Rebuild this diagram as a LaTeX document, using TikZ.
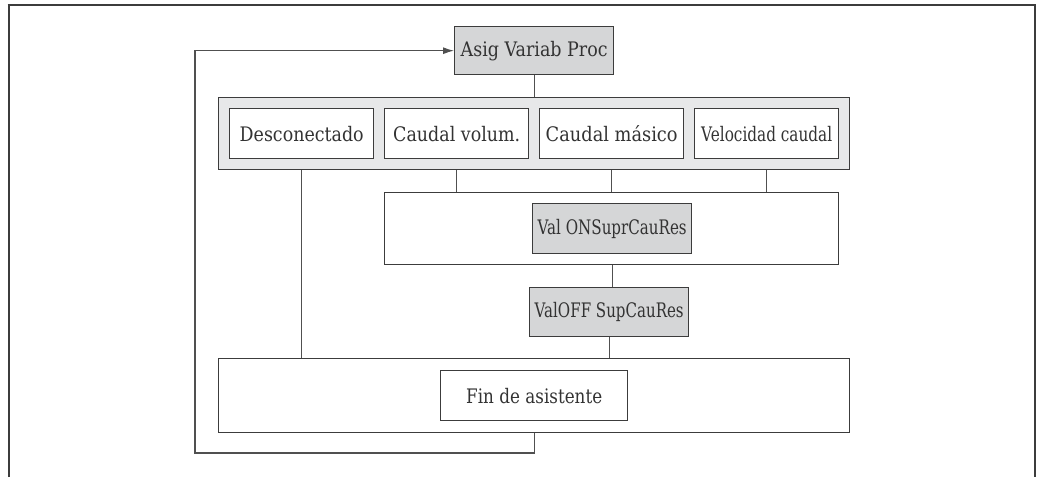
\documentclass[tikz,border=0pt]{standalone}
\usepackage{fontspec}
\setmainfont{DejaVu Serif}
\usepackage{graphicx}
\usetikzlibrary{arrows.meta}
\definecolor{edge}{HTML}{3C3C3C}
\definecolor{conncol}{HTML}{505050}
\definecolor{fillA}{HTML}{D5D6D7}
\definecolor{fillB}{HTML}{E7E8E9}
\definecolor{txt}{HTML}{333333}
\newcommand{\fw}[2]{\resizebox{#1pt}{\height}{#2}}
\begin{document}
\begin{tikzpicture}[x=1pt,y=-1pt,
  box/.style={draw=edge, line width=1.4pt, inner sep=0pt, anchor=north west,
    text=txt, font=\fontsize{20}{23}\selectfont},
  gbox/.style={box, fill=fillA},
  wbox/.style={box, fill=white},
  cbox/.style={box, fill=fillB},
  conn/.style={draw=conncol, line width=1.1pt},
  frameline/.style={draw=edge, line width=2pt}
]
\useasboundingbox (0,0) rectangle (1037,477);
% frame
\draw[frameline] (8.5,477) -- (8.5,5);
\draw[frameline] (1035,5) -- (1035,477);
\draw[draw=edge, line width=1.3pt] (7.5,5) -- (1036,5);

% nodes
\node[gbox, minimum width=159pt, minimum height=48pt] (asig) at (454,26) {\fw{147}{Asig Variab Proc}};
\node[cbox, minimum width=631pt, minimum height=72pt] (sel) at (218,97) {};
\node[wbox, minimum width=144pt, minimum height=50pt] (desc) at (229,108) {\fw{124}{Desconectado}};
\node[wbox, minimum width=144pt, minimum height=50pt] (cvol) at (384,108) {\fw{127}{Caudal volum.}};
\node[wbox, minimum width=144pt, minimum height=50pt] (cmas) at (539,108) {\fw{132}{Caudal másico}};
\node[wbox, minimum width=144pt, minimum height=50pt] (vel) at (694,108) {\fw{131}{Velocidad caudal}};
\node[wbox, minimum width=454pt, minimum height=72pt] (oncont) at (384,192) {};
\node[gbox, minimum width=159pt, minimum height=50pt] (valon) at (532,203) {\fw{149}{Val ONSuprCauRes}};
\node[gbox, minimum width=159pt, minimum height=49pt] (valoff) at (529,287) {\fw{149}{ValOFF SupCauRes}};
\node[wbox, minimum width=631pt, minimum height=74pt] (fincont) at (218,358) {};
\node[wbox, minimum width=187pt, minimum height=50pt] (fin) at (440,370) {\fw{136}{Fin de asistente}};
\coordinate (loopc) at (195,453);

% connectors
\draw[conn] (asig.south) -- (sel.north);
\draw[conn] (desc.south |- sel.south) -- (desc.south |- fincont.north);
\draw[conn] (cvol.south |- sel.south) -- (cvol.south |- oncont.north);
\draw[conn] (cmas.south |- sel.south) -- (cmas.south |- oncont.north);
\draw[conn] (vel.south |- sel.south) -- (vel.south |- oncont.north);
\draw[conn] (valon.south |- oncont.south) -- (valon.south |- valoff.north);
\draw[conn] (valoff.south) -- (valoff.south |- fincont.north);
\draw[conn, -{Latex[length=11pt,width=7pt]}] (fincont.south) |- (loopc) |- (asig.west);
\end{tikzpicture}
\end{document}
